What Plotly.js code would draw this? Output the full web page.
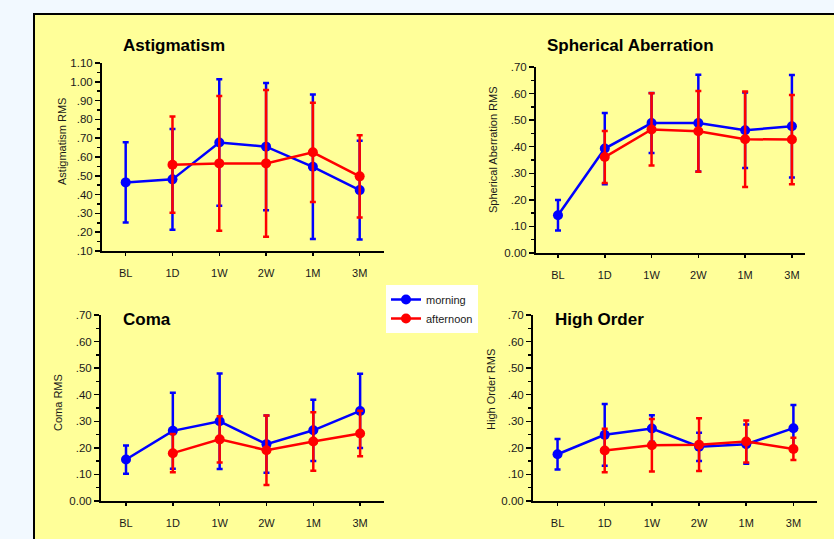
<!DOCTYPE html>
<html>
<head>
<meta charset="utf-8">
<script src="https://cdn.plot.ly/plotly-3.0.1.min.js"></script>
<style>html,body{margin:0;padding:0;background:#F2F9FF;}#chart{width:834px;height:539px;}</style>
</head>
<body>
<div id="chart"></div>
<script>
// ---- data ----
const categories = ['BL', '1D', '1W', '2W', '1M', '3M'];
const seriesNames = ['morning', 'afternoon'];

const astigMorning      = [0.465, 0.481, 0.677, 0.655, 0.548, 0.424];
const astigMorningErr   = [0.214, 0.268, 0.336, 0.338, 0.384, 0.263];
const astigAfternoon    = [null, 0.559, 0.566, 0.566, 0.625, 0.497];
const astigAfternoonErr = [null, 0.256, 0.358, 0.390, 0.264, 0.219];

const sphMorning      = [0.142, 0.393, 0.489, 0.489, 0.462, 0.477];
const sphMorningErr   = [0.057, 0.134, 0.113, 0.182, 0.142, 0.193];
const sphAfternoon    = [null, 0.361, 0.465, 0.458, 0.428, 0.427];
const sphAfternoonErr = [null, 0.098, 0.136, 0.152, 0.180, 0.168];

const comaMorning      = [0.156, 0.264, 0.300, 0.214, 0.266, 0.339];
const comaMorningErr   = [0.053, 0.143, 0.180, 0.108, 0.115, 0.140];
const comaAfternoon    = [null, 0.180, 0.232, 0.191, 0.224, 0.254];
const comaAfternoonErr = [null, 0.072, 0.087, 0.131, 0.110, 0.086];

const hoMorning      = [0.176, 0.249, 0.273, 0.204, 0.214, 0.274];
const hoMorningErr   = [0.057, 0.116, 0.050, 0.053, 0.074, 0.087];
const hoAfternoon    = [null, 0.190, 0.210, 0.212, 0.224, 0.196];
const hoAfternoonErr = [null, 0.082, 0.099, 0.099, 0.079, 0.042];

const panelTitles = ['Astigmatism', 'Spherical Aberration', 'Coma', 'High Order'];
const yTitles = ['Astigmatism RMS', 'Spherical Aberration RMS', 'Coma RMS', 'High Order RMS'];
const astigTickVals = [0.1, 0.2, 0.3, 0.4, 0.5, 0.6, 0.7, 0.8, 0.9, 1.0, 1.1];
const astigTickText = ['.10', '.20', '.30', '.40', '.50', '.60', '.70', '.80', '.90', '1.00', '1.10'];
const rmsTickVals = [0, 0.1, 0.2, 0.3, 0.4, 0.5, 0.6, 0.7];
const rmsTickText = ['0.00', '.10', '.20', '.30', '.40', '.50', '.60', '.70'];

// ---- drawing ----
const W = 834, H = 539;
const BLUE = '#0000FF', RED = '#FF0000';
const FONT = 'Arial, "Liberation Sans", sans-serif';

const panels = [
  {m: astigMorning, me: astigMorningErr, a: astigAfternoon, ae: astigAfternoonErr},
  {m: sphMorning, me: sphMorningErr, a: sphAfternoon, ae: sphAfternoonErr},
  {m: comaMorning, me: comaMorningErr, a: comaAfternoon, ae: comaAfternoonErr},
  {m: hoMorning, me: hoMorningErr, a: hoAfternoon, ae: hoAfternoonErr}
];

// pixel geometry of each plot area: [left, right, top, bottom], x range
const geom = [
  {l: 102, r: 384, t: 63, b: 251, xr: [-0.506, 5.52], yr: [0.1, 1.1], tv: astigTickVals, tt: astigTickText},
  {l: 536, r: 805, t: 67, b: 253, xr: [-0.47, 5.28], yr: [0, 0.7], tv: rmsTickVals, tt: rmsTickText},
  {l: 101, r: 384, t: 315, b: 501, xr: [-0.534, 5.51], yr: [0, 0.7], tv: rmsTickVals, tt: rmsTickText},
  {l: 533, r: 817, t: 315, b: 501, xr: [-0.52, 5.5], yr: [0, 0.7], tv: rmsTickVals, tt: rmsTickText}
];

const data = [];
const layout = {
  width: W, height: H,
  margin: {l: 0, r: 0, t: 0, b: 0},
  paper_bgcolor: '#F2F9FF',
  plot_bgcolor: 'rgba(0,0,0,0)',
  font: {family: FONT, size: 11, color: '#1a1a1a'},
  showlegend: true,
  legend: {
    x: 386 / W, y: 1 - 285 / H, xanchor: 'left', yanchor: 'top',
    bgcolor: '#FFFFFF', borderwidth: 0,
    font: {family: FONT, size: 11, color: '#1a1a1a'},
    itemwidth: 30, tracegroupgap: 0
  },
  shapes: [{
    type: 'rect', xref: 'paper', yref: 'paper', layer: 'below',
    x0: 34 / W, x1: 1.05, y0: -0.05, y1: 1 - 14 / H,
    fillcolor: '#FFFF99', line: {color: '#000000', width: 2}
  }],
  annotations: []
};

const titlePos = [
  {x: 121, y: 45}, {x: 545, y: 45}, {x: 121, y: 319}, {x: 553, y: 319}
];
const yTitlePos = [
  {x: 62, y: 142}, {x: 493, y: 150}, {x: 58, y: 403}, {x: 491, y: 390}
];

panels.forEach((p, i) => {
  const n = i + 1;
  const xa = n === 1 ? 'x' : 'x' + n;
  const ya = n === 1 ? 'y' : 'y' + n;
  const g = geom[i];
  const common = {
    type: 'scatter', mode: 'lines+markers', x: categories,
    xaxis: xa, yaxis: ya, cliponaxis: false
  };
  data.push(Object.assign({}, common, {
    name: seriesNames[0], y: p.m, legendgroup: 'm', showlegend: i === 0,
    line: {color: BLUE, width: 2.5}, marker: {color: BLUE, size: 10},
    error_y: {type: 'data', array: p.me, visible: true, color: BLUE, thickness: 2.5, width: 3}
  }));
  data.push(Object.assign({}, common, {
    name: seriesNames[1], y: p.a, legendgroup: 'a', showlegend: i === 0,
    line: {color: RED, width: 2.5}, marker: {color: RED, size: 10},
    error_y: {type: 'data', array: p.ae, visible: true, color: RED, thickness: 2.5, width: 3}
  }));

  const xk = n === 1 ? 'xaxis' : 'xaxis' + n;
  const yk = n === 1 ? 'yaxis' : 'yaxis' + n;
  layout[xk] = {
    domain: [g.l / W, g.r / W], anchor: ya, type: 'category',
    range: g.xr, showgrid: false, zeroline: false,
    showline: true, linecolor: '#000000', linewidth: 2,
    ticks: 'outside', ticklen: 3, tickwidth: 1.5, tickcolor: '#000000',
    ticklabelstandoff: 8,
    tickfont: {family: FONT, size: 11, color: '#1a1a1a'}
  };
  layout[yk] = {
    domain: [1 - g.b / H, 1 - g.t / H], anchor: xa,
    range: g.yr, showgrid: false, zeroline: false,
    showline: true, linecolor: '#000000', linewidth: 2,
    ticks: 'outside', ticklen: 5, tickwidth: 1.5, tickcolor: '#000000',
    tickmode: 'array', tickvals: g.tv, ticktext: g.tt,
    tickfont: {family: FONT, size: 11.5, color: '#1a1a1a'},
    minor: {ticks: 'outside', ticklen: 3, tickwidth: 1.5, tickcolor: '#000000', dtick: 0.05, tick0: 0}
  };

  layout.annotations.push({
    xref: 'paper', yref: 'paper', x: titlePos[i].x / W, y: 1 - titlePos[i].y / H,
    xanchor: 'left', yanchor: 'middle', showarrow: false,
    text: '<b>' + panelTitles[i] + '</b>',
    font: {family: FONT, size: 17, color: '#000000'}
  });
  layout.annotations.push({
    xref: 'paper', yref: 'paper', x: yTitlePos[i].x / W, y: 1 - yTitlePos[i].y / H,
    xanchor: 'center', yanchor: 'middle', showarrow: false, textangle: -90,
    text: yTitles[i],
    font: {family: FONT, size: 11, color: '#1a1a1a'}
  });
});

Plotly.newPlot('chart', data, layout, {displayModeBar: false, staticPlot: true});
</script>
</body>
</html>
